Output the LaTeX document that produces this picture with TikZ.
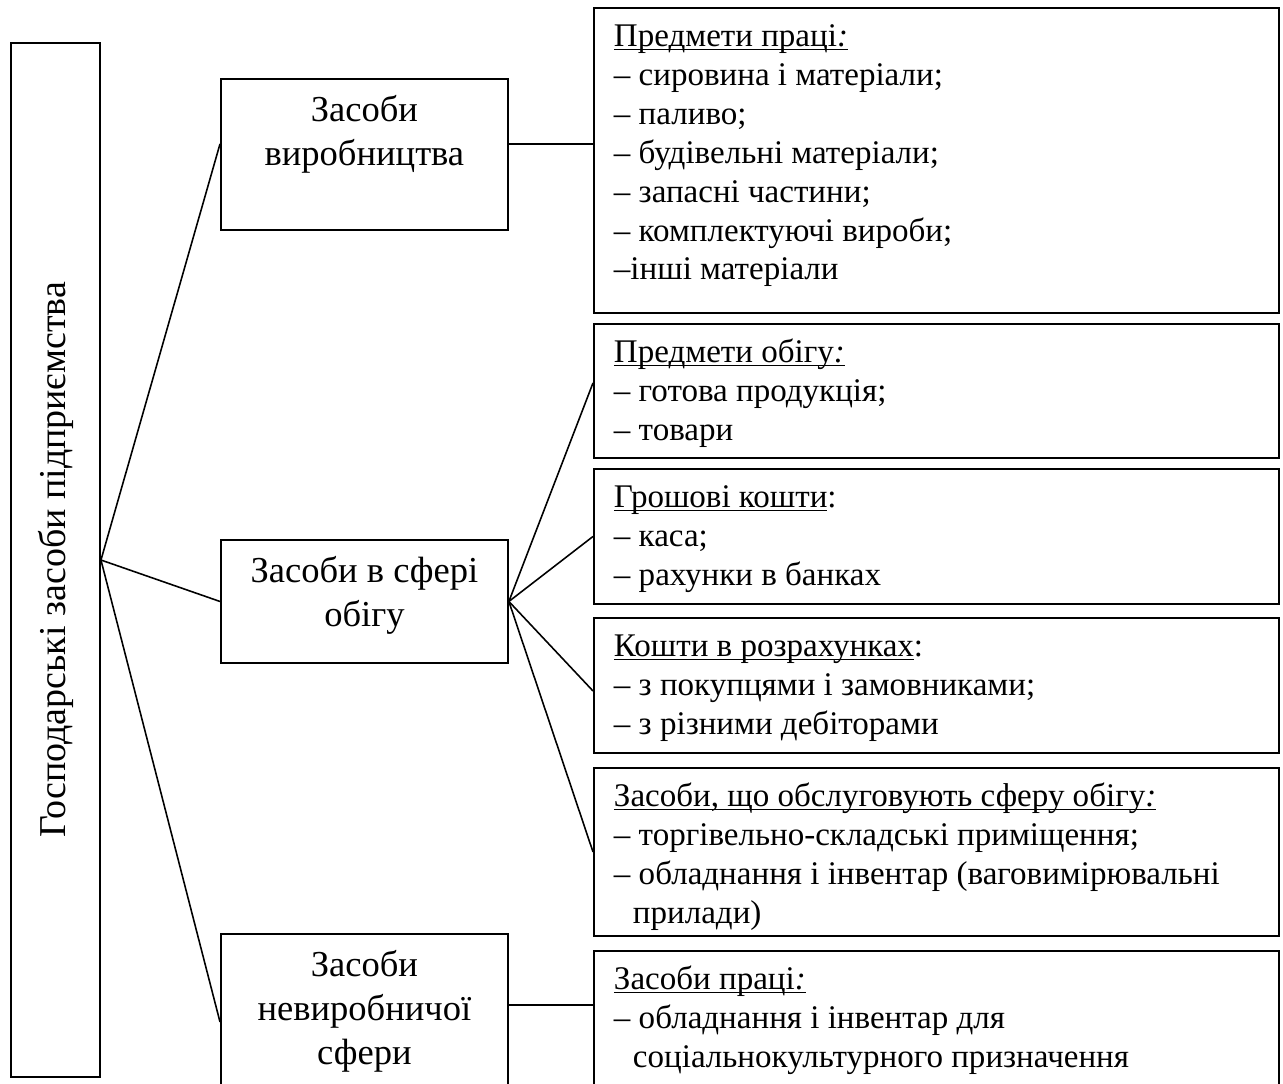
\documentclass[tikz,border=0pt]{standalone}
\usepackage{fontspec}
\setmainfont{Liberation Serif}
\usepackage{tikz}
\usetikzlibrary{positioning}

\newcommand{\headul}[1]{\setbox0\hbox{#1}\rlap{\rule[-2pt]{\wd0}{0.7pt}}\box0}
\newcommand{\listbox}[2]{\parbox[c][#1][t]{12.9cm}{\raggedright\rule{0pt}{0.78cm}#2}}
\newcommand{\midbox}[2]{\parbox[c][#1][t]{5.74cm}{\centering\rule{0pt}{0.86cm}#2}}

\begin{document}
\begin{tikzpicture}[x=0.02cm, y=-0.02cm,
    box/.style={draw, rectangle, line width=1.1pt, inner sep=0pt},
    listnode/.style={box, anchor=north west, inner xsep=0.4cm, font=\fontsize{18.8}{22.1}\selectfont},
    midnode/.style={box, anchor=north west, font=\fontsize{20.8}{25}\selectfont},
    link/.style={line width=0.9pt}]
    \clip (0,0) rectangle (1283,1083);

    \node[box, rotate=90, minimum width=20.68cm, minimum height=1.78cm, font=\fontsize{21.6}{26}\selectfont] (root) at (55.5,560) {Господарські засоби підприємства};

    \node[midnode] (prod) at (220,78) {\midbox{3.02cm}{Засоби\\виробництва}};
    \node[midnode] (obig) at (220,539) {\midbox{2.46cm}{Засоби в сфері\\обігу}};
    \node[midnode] (nevyr) at (220,933) {\midbox{3.52cm}{Засоби\\невиробничої\\сфери}};

    \node[listnode] (praci) at (593,7) {\listbox{6.1cm}{\headul{Предмети праці\textit{:}}\\
        – сировина і матеріали;\\
        – паливо;\\
        – будівельні матеріали;\\
        – запасні частини;\\
        – комплектуючі вироби;\\
        –інші матеріали}};
    \node[listnode] (obigu) at (593,323) {\listbox{2.68cm}{\headul{Предмети обігу\textit{:}}\\
        – готова продукція;\\
        – товари}};
    \node[listnode] (groshi) at (593,468) {\listbox{2.7cm}{\headul{Грошові кошти}:\\
        – каса;\\
        – рахунки в банках}};
    \node[listnode] (roz) at (593,617) {\listbox{2.7cm}{\headul{Кошти в розрахунках}:\\
        – з покупцями і замовниками;\\
        – з різними дебіторами}};
    \node[listnode] (sfera) at (593,767) {\listbox{3.36cm}{\headul{Засоби, що обслуговують сферу обігу\textit{:}}\\
        – торгівельно-складські приміщення;\\
        – обладнання і інвентар (ваговимірювальні\\
        \hspace*{0.38cm}прилади)}};
    \node[listnode] (pratsi) at (593,950) {\listbox{3.2cm}{\headul{Засоби праці\textit{:}}\\
        – обладнання і інвентар для\\
        \hspace*{0.38cm}соціальнокультурного призначення}};

    \draw[link] (root.south) -- ([yshift=0.21cm]prod.west);
    \draw[link] (root.south) -- (obig.west);
    \draw[link] (root.south) -- (nevyr.west);
    \draw[link] ([yshift=0.21cm]prod.east) -- ([yshift=0.21cm]prod.east -| praci.west);
    \draw[link] (obig.east) -- ([yshift=0.16cm]obigu.west);
    \draw[link] (obig.east) -- (groshi.west);
    \draw[link] (obig.east) -- ([yshift=-0.11cm]roz.west);
    \draw[link] (obig.east) -- (sfera.west);
    \draw[link] ([yshift=0.34cm]nevyr.east) -- ([yshift=0.34cm]nevyr.east -| pratsi.west);
\end{tikzpicture}
\end{document}
